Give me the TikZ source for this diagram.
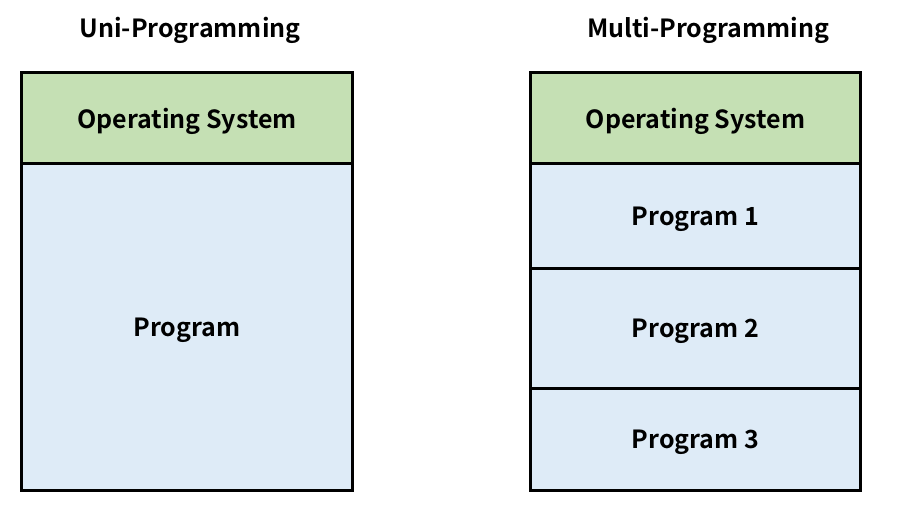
\documentclass[tikz,border=0pt]{standalone}
\usepackage{fontspec}
\setmainfont{Noto Sans CJK KR}[BoldFont={* Bold}]
\usetikzlibrary{positioning}
\definecolor{osgreen}{HTML}{C5E0B4}
\definecolor{progblue}{HTML}{DEEBF7}

\begin{document}
\begin{tikzpicture}[x=1pt, y=-1pt, line width=3pt,
	box/.style={draw, rectangle, outer sep=0pt, inner sep=0pt, text depth=0pt, font=\fontsize{25}{29}\selectfont\bfseries},
	osbox/.style={box, fill=osgreen, minimum height=91pt},
	progbox/.style={box, fill=progblue},
	title/.style={font=\fontsize{25}{29}\selectfont\bfseries}]

\useasboundingbox (0,0) rectangle (901,516);

% uni-programming
\node[title] (unititle) at (190,30) {Uni-Programming};
\node[osbox, minimum width=331pt, anchor=north] (unios) at (187,72.5) {Operating System};
\node[progbox, minimum width=331pt, minimum height=327pt, below=0pt of unios] (uniprog) {Program};

% multi-programming
\node[title] (multititle) at (708,30) {Multi-Programming};
\node[osbox, minimum width=330pt, anchor=north] (multios) at (695.5,72.5) {Operating System};
\node[progbox, minimum width=330pt, minimum height=104.5pt, below=0pt of multios] (prog1) {Program 1};
\node[progbox, minimum width=330pt, minimum height=120.5pt, below=0pt of prog1] (prog2) {Program 2};
\node[progbox, minimum width=330pt, minimum height=102pt, below=0pt of prog2] (prog3) {Program 3};

\end{tikzpicture}
\end{document}
